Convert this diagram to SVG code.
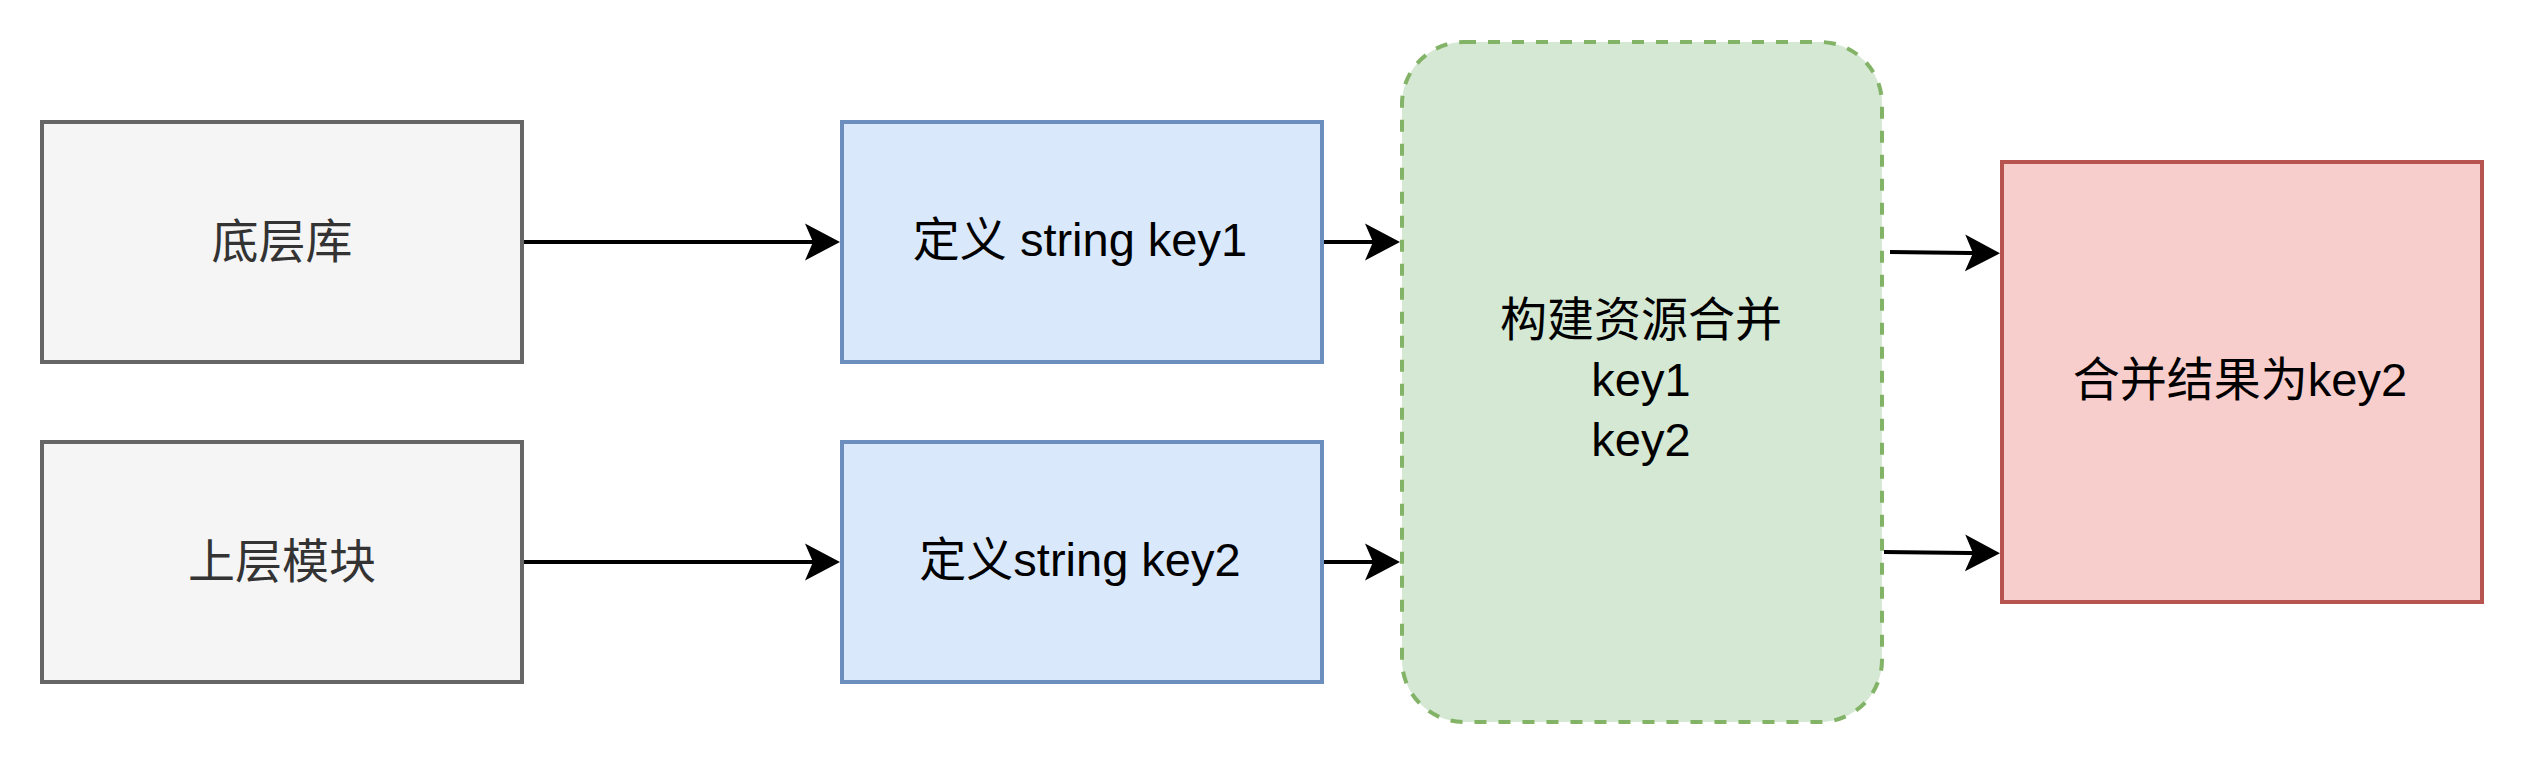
<svg xmlns="http://www.w3.org/2000/svg" width="2524" height="764" viewBox="0 0 2524 764">
  <style>
    .lbl { font-family: "Liberation Sans", "Noto Sans CJK SC", sans-serif; font-size: 47px; text-anchor: middle; fill: #000000; }
    .gray rect { fill: #f5f5f5; stroke: #666666; stroke-width: 4; }
    .gray text { fill: #333333; }
    .blue rect { fill: #dae8fc; stroke: #6c8ebf; stroke-width: 4; }
    .green rect { fill: #d5e8d4; stroke: #82b366; stroke-width: 4; stroke-dasharray: 12 12; }
    .red rect { fill: #f8cecc; stroke: #b85450; stroke-width: 4; }
    .edge { fill: none; stroke: #000000; stroke-width: 4; marker-end: url(#arrow); }
  </style>
  <defs>
    <marker id="arrow" markerUnits="userSpaceOnUse" viewBox="0 0 36 38" markerWidth="36" markerHeight="38" refX="25" refY="19" orient="auto">
      <path d="M0,0.5 L35,19 L0,37.5 L8,19 Z" fill="#000000"/>
    </marker>
  </defs>
  <rect width="2524" height="764" fill="#ffffff"/>

  <g id="node-bottom-lib" class="gray">
    <rect x="42" y="122" width="480" height="240"/>
    <text class="lbl" x="282" y="258">底层库</text>
  </g>
  <g id="node-upper-module" class="gray">
    <rect x="42" y="442" width="480" height="240"/>
    <text class="lbl" x="282" y="578">上层模块</text>
  </g>
  <g id="node-key1" class="blue">
    <rect x="842" y="122" width="480" height="240"/>
    <text class="lbl" x="1080" y="256">定义 string key1</text>
  </g>
  <g id="node-key2" class="blue">
    <rect x="842" y="442" width="480" height="240"/>
    <text class="lbl" x="1080" y="576">定义string key2</text>
  </g>
  <g id="node-merge" class="green">
    <rect x="1402" y="42" width="480" height="680" rx="62" ry="62"/>
    <text class="lbl" x="1641" y="336">构建资源合并</text>
    <text class="lbl" x="1641" y="396">key1</text>
    <text class="lbl" x="1641" y="456">key2</text>
  </g>
  <g id="node-result" class="red">
    <rect x="2002" y="162" width="480" height="440"/>
    <text class="lbl" x="2240" y="396">合并结果为key2</text>
  </g>

  <g id="connectors">
    <line class="edge" x1="524" y1="242" x2="830" y2="242"/>
    <line class="edge" x1="524" y1="562" x2="830" y2="562"/>
    <line class="edge" x1="1324" y1="242" x2="1390" y2="242"/>
    <line class="edge" x1="1324" y1="562" x2="1390" y2="562"/>
    <line class="edge" x1="1890" y1="252" x2="1990" y2="253.2"/>
    <line class="edge" x1="1884" y1="552" x2="1990" y2="553.2"/>
  </g>
</svg>
